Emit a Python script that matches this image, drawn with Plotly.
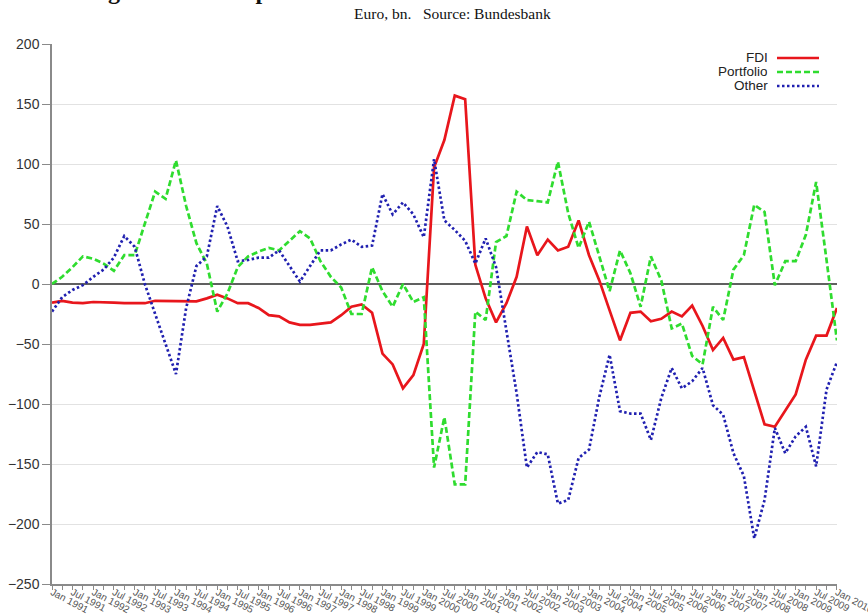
import pandas as pd
import plotly.graph_objects as go

# ---------------- data (Euro bn, quarterly, Q1 1991 .. Q1 2010) ----------------
quarters = pd.date_range("1991-01-01", periods=77, freq="QS")

fdi = [-15.5, -14, -15.5, -16, -15, -15, -15.5, -16, -16, -16,
       -14, -14, -14, -14, -14.5, -12, -9, -12, -16, -16,
       -20, -26, -27, -32, -34, -34, -33, -32, -26, -19,
       -17, -24, -58, -67, -87, -76, -50, 97, 120, 157,
       154, 16, -12, -32, -16, 6, 48, 24, 37, 28,
       31, 53, 24, 3, -22, -47, -24, -23, -31, -29,
       -23, -27, -18, -35, -55, -45, -63, -61, -89, -117,
       -119, -106, -92, -63, -43, -43, -20]

portfolio = [0, 6, 14, 23, 21, 17, 11, 24, 24, 50,
             77, 71, 103, 65, 34, 17, -23, -8, 14, 23,
             27, 30, 28, 36, 44, 38, 19, 6, -3, -25,
             -25, 14, -6, -19, 0, -15, -11, -153, -111, -167,
             -167, -23, -30, 35, 40, 77, 70, 69, 68, 102,
             59, 30, 52, 23, -6, 28, 9, -19, 23, 3,
             -37, -33, -60, -67, -19, -30, 12, 24, 66, 60,
             -1, 19, 19, 41, 85, 20, -47]

other = [-23, -11, -5, -1, 6, 12, 22, 40, 31, 0,
         -25, -50, -75, -20, 15, 23, 65, 48, 19, 20,
         22, 22, 28, 15, 2, 15, 28, 28, 33, 37,
         31, 32, 75, 58, 68, 58, 39, 104, 53, 45,
         36, 17, 38, 14, -38, -91, -153, -140, -142, -183,
         -180, -145, -138, -94, -59, -106, -108, -108, -130, -95,
         -70, -87, -81, -70, -101, -109, -141, -160, -212, -180,
         -120, -141, -127, -119, -152, -88, -65]

series_names = ["FDI", "Portfolio", "Other"]
y_ticks = [200, 150, 100, 50, 0, -50, -100, -150, -200, -250]

title_text = "Net lending abroad: components"
subtitle_text = "Euro, bn.   Source: Bundesbank"

# ---------------- styling ----------------
W, H = 868, 615
L, R, T, B = 52, 31, 44, 31
PW, PH = W - L - R, H - T - B

def px_x(p):
    return (p - L) / PW

def px_y(p):
    return (H - B - p) / PH

colors = ["#e8161c", "#2fdc2f", "#2020b0"]
dashes = ["solid", "6px,3px", "2.5px,2.5px"]
ys = [fdi, portfolio, other]

fig = go.Figure()
for name, yv, c, d in zip(series_names, ys, colors, dashes):
    fig.add_trace(go.Scatter(x=quarters, y=yv, name=name, mode="lines",
                             line=dict(color=c, width=2.7, dash=d)))

sans = "Liberation Sans, Arial, Helvetica, sans-serif"
serif = "Liberation Serif, Times New Roman, serif"

fig.update_layout(
    width=W, height=H,
    margin=dict(l=L, r=R, t=T, b=B),
    plot_bgcolor="white", paper_bgcolor="white",
    showlegend=False,
)
fig.update_xaxes(
    type="date",
    range=["1991-01-01", "2010-01-01 12:00"],
    tick0="1991-01-01", dtick="M3", ticklabelstep=2,
    tickformat="%b %Y", tickangle=28,
    ticks="outside", ticklen=4, tickcolor="#8a8a8a", tickwidth=1,
    showline=True, linecolor="#8a8a8a", linewidth=1.5,
    showgrid=False, zeroline=False,
    tickfont=dict(family=sans, size=10, color="#555"),
    ticklabelstandoff=-7,
    ticklabeloverflow="allow",
    automargin=False,
)
fig.update_yaxes(
    range=[-250, 200], tickvals=y_ticks,
    ticks="outside", ticklen=8, tickcolor="#8a8a8a", tickwidth=1,
    showline=True, linecolor="#8a8a8a", linewidth=1.5,
    showgrid=True, gridcolor="#e2e2e2", gridwidth=1,
    zeroline=True, zerolinecolor="#606060", zerolinewidth=2,
    tickfont=dict(family=sans, size=14, color="#333"),
    automargin=False,
)

annotations = [
    dict(text=f"<b>{title_text}</b>", xref="paper", yref="paper",
         x=px_x(0), y=px_y(6), xanchor="left", yanchor="bottom",
         showarrow=False, font=dict(family=serif, size=24, color="#111")),
    dict(text=subtitle_text, xref="paper", yref="paper",
         x=px_x(452), y=px_y(13), xanchor="center", yanchor="middle",
         showarrow=False, font=dict(family=serif, size=15.5, color="#111")),
]
shapes = []
legend_rows = [58, 72, 86]
for name, c, d, ry in zip(series_names, colors, dashes, legend_rows):
    annotations.append(dict(text=name, xref="paper", yref="paper",
                            x=px_x(769), y=px_y(ry), xanchor="right", yanchor="middle",
                            height=13.5, borderpad=0,
                            showarrow=False, font=dict(family=sans, size=13.5, color="#222")))
    shapes.append(dict(type="line", xref="paper", yref="paper",
                       x0=px_x(777), x1=px_x(819), y0=px_y(ry), y1=px_y(ry),
                       line=dict(color=c, width=2.7, dash=d)))
fig.update_layout(annotations=annotations, shapes=shapes)

fig.write_html("out.html", config={"displayModeBar": False},
               post_script="document.body.style.margin='0px';")
